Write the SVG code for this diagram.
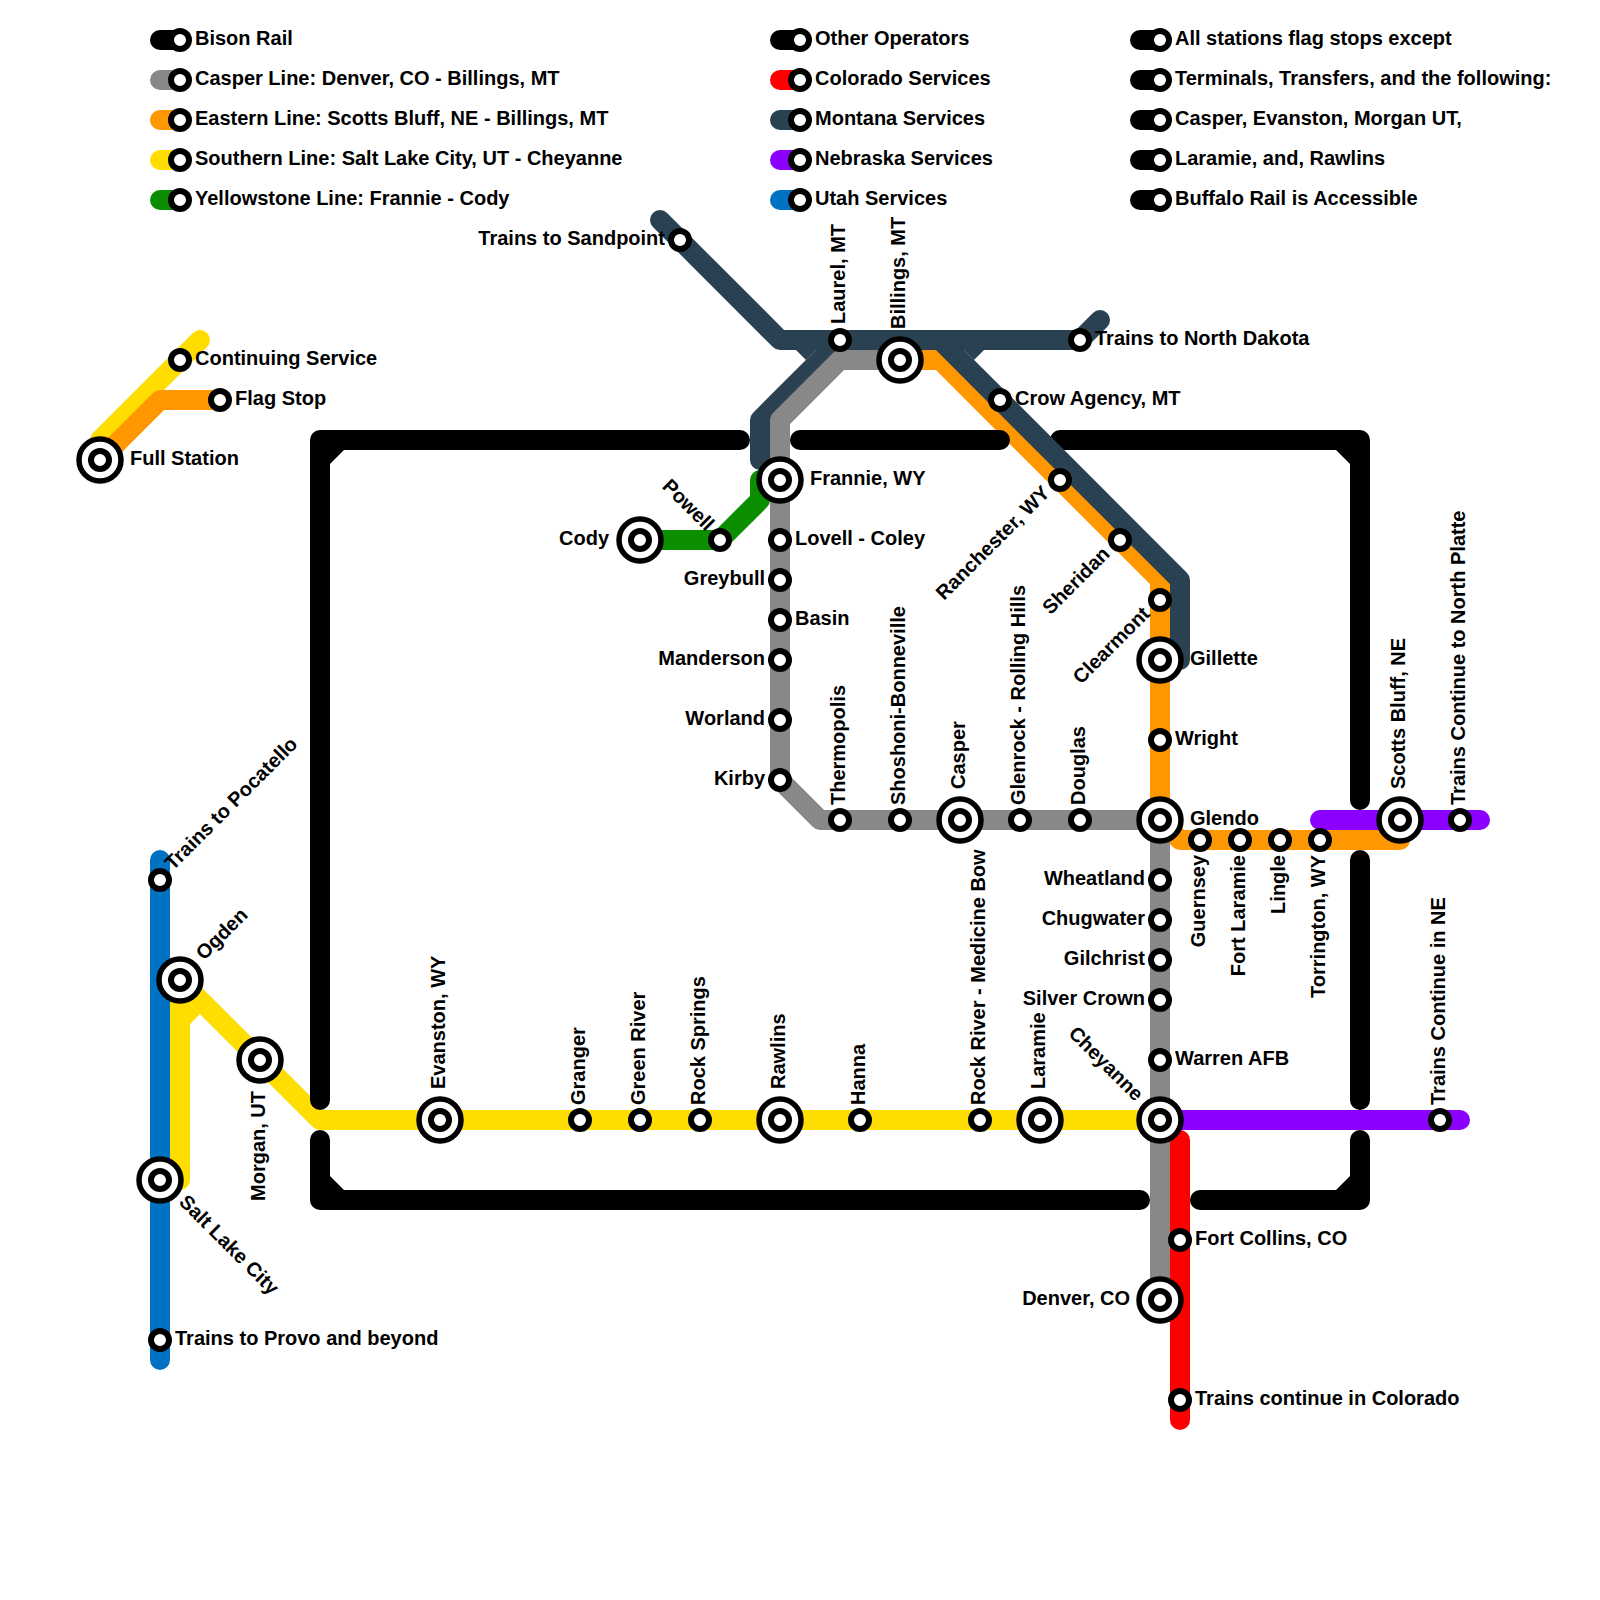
<svg xmlns="http://www.w3.org/2000/svg" width="1600" height="1600" viewBox="0 0 1600 1600">
<style>
.l{fill:none;stroke-width:20;stroke-linecap:round;stroke-linejoin:round}
.bk{stroke:#000}.gr{stroke:#888}.or{stroke:#ff9800}.ye{stroke:#ffdd00}.gn{stroke:#0b8e00}.na{stroke:#294150}.pu{stroke:#8b00ff}.re{stroke:#ff0000}.bl{stroke:#0072c4}
.c{fill:#fff;stroke:#000}
text{font-family:"Liberation Sans",Arial,sans-serif;font-weight:700;font-size:20px;fill:#000}
.e{text-anchor:end}
</style>
<defs>
<g id="st"><circle class="c" r="9" stroke-width="6"/></g>
<g id="big"><circle class="c" r="21" stroke-width="5.5"/><circle class="c" r="9" stroke-width="6"/></g>
</defs>
<g id="connectors">
<path class="l ye" d="M200 340L100 440V460"/>
<path class="l or" d="M160 400H220M160 400L100 460"/>
<path class="l or" d="M900 360H940L1160 580V820L1180 840H1400V820"/>
<path class="l bl" d="M160 860V1360"/>
<path class="l ye" d="M160 1180H180V980L320 1120H1160"/>
<polygon fill="#ffdd00" points="190,1024 200,1014 190,1004"/>
<path class="l re" d="M1180 1140V1420"/>
<path class="l pu" d="M1320 820H1480"/>
<path class="l pu" d="M1160 1120H1460"/>
<path class="l gn" d="M640 540H720L760 500V480H780"/>
<g id="bison">
<path class="l bk" d="M320 1100V440H740"/>
<polygon points="330,450 344,450 330,464"/>
<path class="l bk" d="M800 440H1000"/>
<path class="l bk" d="M1060 440H1360V800"/>
<polygon points="1336,450 1350,450 1350,464"/>
<path class="l bk" d="M1360 860V1100"/>
<path class="l bk" d="M1360 1140V1200H1200"/>
<polygon points="1350,1176 1350,1190 1336,1190"/>
<path class="l bk" d="M320 1140V1200H1140"/>
<polygon points="330,1176 330,1190 344,1190"/>
</g>
<path class="l na" d="M660 220L780 340H1080L1100 320"/>
<path class="l na" d="M840 340L760 420V460"/>
<path class="l na" d="M940 340L1180 580V660"/>
<polygon fill="#294150" points="806,360 796,350 816,350"/>
<polygon fill="#294150" points="974,360 984,350 964,350"/>
<path class="l gr" d="M900 360H840L780 420V780L820 820H1160V1300"/>
<g id="legend-lines">
<path class="l bk" d="M160 40H180"/><path class="l gr" d="M160 80H180"/><path class="l or" d="M160 120H180"/><path class="l ye" d="M160 160H180"/><path class="l gn" d="M160 200H180"/>
<path class="l bk" d="M780 40H800"/><path class="l re" d="M780 80H800"/><path class="l na" d="M780 120H800"/><path class="l pu" d="M780 160H800"/><path class="l bl" d="M780 200H800"/>
<path class="l bk" d="M1140 40H1160"/><path class="l bk" d="M1140 80H1160"/><path class="l bk" d="M1140 120H1160"/><path class="l bk" d="M1140 160H1160"/><path class="l bk" d="M1140 200H1160"/>
</g>
</g>
<g id="legend">
<g id="lg1"><use href="#st" x="180" y="40"/><text x="195" y="45">Bison Rail</text></g>
<g id="lg2"><use href="#st" x="180" y="80"/><text x="195" y="85">Casper Line: Denver, CO - Billings, MT</text></g>
<g id="lg3"><use href="#st" x="180" y="120"/><text x="195" y="125">Eastern Line: Scotts Bluff, NE - Billings, MT</text></g>
<g id="lg4"><use href="#st" x="180" y="160"/><text x="195" y="165">Southern Line: Salt Lake City, UT - Cheyanne</text></g>
<g id="lg5"><use href="#st" x="180" y="200"/><text x="195" y="205">Yellowstone Line: Frannie - Cody</text></g>
<g id="lg6"><use href="#st" x="800" y="40"/><text x="815" y="45">Other Operators</text></g>
<g id="lg7"><use href="#st" x="800" y="80"/><text x="815" y="85">Colorado Services</text></g>
<g id="lg8"><use href="#st" x="800" y="120"/><text x="815" y="125">Montana Services</text></g>
<g id="lg9"><use href="#st" x="800" y="160"/><text x="815" y="165">Nebraska Services</text></g>
<g id="lg10"><use href="#st" x="800" y="200"/><text x="815" y="205">Utah Services</text></g>
<g id="lg11"><use href="#st" x="1160" y="40"/><text x="1175" y="45">All stations flag stops except</text></g>
<g id="lg12"><use href="#st" x="1160" y="80"/><text x="1175" y="85">Terminals, Transfers, and the following:</text></g>
<g id="lg13"><use href="#st" x="1160" y="120"/><text x="1175" y="125">Casper, Evanston, Morgan UT,</text></g>
<g id="lg14"><use href="#st" x="1160" y="160"/><text x="1175" y="165">Laramie, and, Rawlins</text></g>
<g id="lg15"><use href="#st" x="1160" y="200"/><text x="1175" y="205">Buffalo Rail is Accessible</text></g>
<g id="key1"><use href="#st" x="180" y="360"/><text x="195" y="365">Continuing Service</text></g>
<g id="key2"><use href="#st" x="220" y="400"/><text x="235" y="405">Flag Stop</text></g>
<g id="key3"><use href="#big" x="100" y="460"/><text x="130" y="465">Full Station</text></g>
</g>
<g id="stations">
<g id="sandpoint"><use href="#st" x="680" y="240"/><text class="e" x="665" y="245">Trains to Sandpoint</text></g>
<g id="laurel"><use href="#st" x="840" y="340"/><text transform="translate(845 324) rotate(-90)">Laurel, MT</text></g>
<g id="billings"><use href="#big" x="900" y="360"/><text transform="translate(905 329) rotate(-90)">Billings, MT</text></g>
<g id="northdakota"><use href="#st" x="1080" y="340"/><text x="1095" y="345">Trains to North Dakota</text></g>
<g id="crow"><use href="#st" x="1000" y="400"/><text x="1015" y="405">Crow Agency, MT</text></g>
<g id="ranchester"><use href="#st" x="1060" y="480"/><text class="e" transform="translate(1051 494) rotate(-45)">Ranchester, WY</text></g>
<g id="sheridan"><use href="#st" x="1120" y="540"/><text class="e" transform="translate(1111 555) rotate(-45)">Sheridan</text></g>
<g id="clearmont"><use href="#st" x="1160" y="600"/><text class="e" transform="translate(1151 615) rotate(-45)">Clearmont</text></g>
<g id="gillette"><use href="#big" x="1160" y="660"/><text x="1190" y="665">Gillette</text></g>
<g id="wright"><use href="#st" x="1160" y="740"/><text x="1175" y="745">Wright</text></g>
<g id="glendo"><use href="#big" x="1160" y="820"/><text x="1190" y="825">Glendo</text></g>
<g id="guernsey"><use href="#st" x="1200" y="840"/><text class="e" transform="translate(1205 855) rotate(-90)">Guernsey</text></g>
<g id="fortlaramie"><use href="#st" x="1240" y="840"/><text class="e" transform="translate(1245 855) rotate(-90)">Fort Laramie</text></g>
<g id="lingle"><use href="#st" x="1280" y="840"/><text class="e" transform="translate(1285 855) rotate(-90)">Lingle</text></g>
<g id="torrington"><use href="#st" x="1320" y="840"/><text class="e" transform="translate(1325 855) rotate(-90)">Torrington, WY</text></g>
<g id="scotts"><use href="#big" x="1400" y="820"/><text transform="translate(1405 789) rotate(-90)">Scotts Bluff, NE</text></g>
<g id="northplatte"><use href="#st" x="1460" y="820"/><text transform="translate(1465 805) rotate(-90)">Trains Continue to North Platte</text></g>
<g id="contne"><use href="#st" x="1440" y="1120"/><text transform="translate(1445 1105) rotate(-90)">Trains Continue in NE</text></g>
<g id="cody"><use href="#big" x="640" y="540"/><text class="e" x="609" y="545">Cody</text></g>
<g id="powell"><use href="#st" x="720" y="540"/><text class="e" transform="translate(706 532) rotate(45)">Powell</text></g>
<g id="frannie"><use href="#big" x="780" y="480"/><text x="810" y="485">Frannie, WY</text></g>
<g id="lovell"><use href="#st" x="780" y="540"/><text x="795" y="545">Lovell - Coley</text></g>
<g id="greybull"><use href="#st" x="780" y="580"/><text class="e" x="765" y="585">Greybull</text></g>
<g id="basin"><use href="#st" x="780" y="620"/><text x="795" y="625">Basin</text></g>
<g id="manderson"><use href="#st" x="780" y="660"/><text class="e" x="765" y="665">Manderson</text></g>
<g id="worland"><use href="#st" x="780" y="720"/><text class="e" x="765" y="725">Worland</text></g>
<g id="kirby"><use href="#st" x="780" y="780"/><text class="e" x="765" y="785">Kirby</text></g>
<g id="thermopolis"><use href="#st" x="840" y="820"/><text transform="translate(845 805) rotate(-90)">Thermopolis</text></g>
<g id="shoshoni"><use href="#st" x="900" y="820"/><text transform="translate(905 805) rotate(-90)">Shoshoni-Bonneville</text></g>
<g id="casper"><use href="#big" x="960" y="820"/><text transform="translate(965 789) rotate(-90)">Casper</text></g>
<g id="glenrock"><use href="#st" x="1020" y="820"/><text transform="translate(1025 805) rotate(-90)">Glenrock - Rolling Hills</text></g>
<g id="douglas"><use href="#st" x="1080" y="820"/><text transform="translate(1085 805) rotate(-90)">Douglas</text></g>
<g id="wheatland"><use href="#st" x="1160" y="880"/><text class="e" x="1145" y="885">Wheatland</text></g>
<g id="chugwater"><use href="#st" x="1160" y="920"/><text class="e" x="1145" y="925">Chugwater</text></g>
<g id="gilchrist"><use href="#st" x="1160" y="960"/><text class="e" x="1145" y="965">Gilchrist</text></g>
<g id="silver"><use href="#st" x="1160" y="1000"/><text class="e" x="1145" y="1005">Silver Crown</text></g>
<g id="warren"><use href="#st" x="1160" y="1060"/><text x="1175" y="1065">Warren AFB</text></g>
<g id="cheyenne"><use href="#big" x="1160" y="1120"/><text class="e" transform="translate(1135 1102) rotate(45)">Cheyanne</text></g>
<g id="fortcollins"><use href="#st" x="1180" y="1240"/><text x="1195" y="1245">Fort Collins, CO</text></g>
<g id="denver"><use href="#big" x="1160" y="1300"/><text class="e" x="1130" y="1305">Denver, CO</text></g>
<g id="contco"><use href="#st" x="1180" y="1400"/><text x="1195" y="1405">Trains continue in Colorado</text></g>
<g id="pocatello"><use href="#st" x="160" y="880"/><text transform="translate(173 871) rotate(-45)">Trains to Pocatello</text></g>
<g id="ogden"><use href="#big" x="180" y="980"/><text transform="translate(204 961) rotate(-45)">Ogden</text></g>
<g id="morgan"><use href="#big" x="260" y="1060"/><text class="e" transform="translate(265 1091) rotate(-90)">Morgan, UT</text></g>
<g id="slc"><use href="#big" x="160" y="1180"/><text transform="translate(178 1203) rotate(45)">Salt Lake City</text></g>
<g id="provo"><use href="#st" x="160" y="1340"/><text x="175" y="1345">Trains to Provo and beyond</text></g>
<g id="evanston"><use href="#big" x="440" y="1120"/><text transform="translate(445 1089) rotate(-90)">Evanston, WY</text></g>
<g id="granger"><use href="#st" x="580" y="1120"/><text transform="translate(585 1105) rotate(-90)">Granger</text></g>
<g id="greenriver"><use href="#st" x="640" y="1120"/><text transform="translate(645 1105) rotate(-90)">Green River</text></g>
<g id="rocksprings"><use href="#st" x="700" y="1120"/><text transform="translate(705 1105) rotate(-90)">Rock Springs</text></g>
<g id="rawlins"><use href="#big" x="780" y="1120"/><text transform="translate(785 1089) rotate(-90)">Rawlins</text></g>
<g id="hanna"><use href="#st" x="860" y="1120"/><text transform="translate(865 1105) rotate(-90)">Hanna</text></g>
<g id="rockriver"><use href="#st" x="980" y="1120"/><text transform="translate(985 1105) rotate(-90)">Rock River - Medicine Bow</text></g>
<g id="laramie"><use href="#big" x="1040" y="1120"/><text transform="translate(1045 1089) rotate(-90)">Laramie</text></g>
</g>
</svg>
